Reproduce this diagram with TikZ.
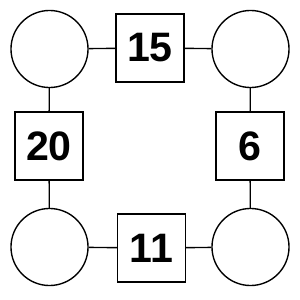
\documentclass[tikz,border=0pt]{standalone}
\usepackage{fontspec}
\setmainfont{Liberation Sans}
\usepackage{tikz}
\usetikzlibrary{positioning}

\begin{document}
\begin{tikzpicture}[
    x=0.03333cm, y=-0.03333cm,
    every node/.style={font=\fontsize{39}{41}\selectfont\bfseries},
    spot/.style={circle, draw, line width=1.3pt, minimum size=2.567cm, inner sep=0pt},
    numbox/.style={rectangle, draw, line width=1.3pt, minimum size=2.267cm, inner sep=0pt},
    link/.style={line width=1.3pt}
]
\useasboundingbox (0,0) rectangle (300,300);
\node (tl) [spot] at (49.5,49) {};
\node (tr) [spot] at (250.5,49) {};
\node (bl) [spot] at (49.5,247) {};
\node (br) [spot] at (250.5,247) {};
\node (top) [numbox] at (150,48) {15};
\node (left) [numbox] at (49,146) {20};
\node (right) [numbox] at (250,146) {6};
\node (bot) [numbox] at (151.5,248) {11};
\draw [link] (tl) -- (top); \draw [link] (top) -- (tr);
\draw [link] (tl) -- (left); \draw [link] (left) -- (bl);
\draw [link] (tr) -- (right); \draw [link] (right) -- (br);
\draw [link] (bl) -- (bot); \draw [link] (bot) -- (br);
\end{tikzpicture}
\end{document}
